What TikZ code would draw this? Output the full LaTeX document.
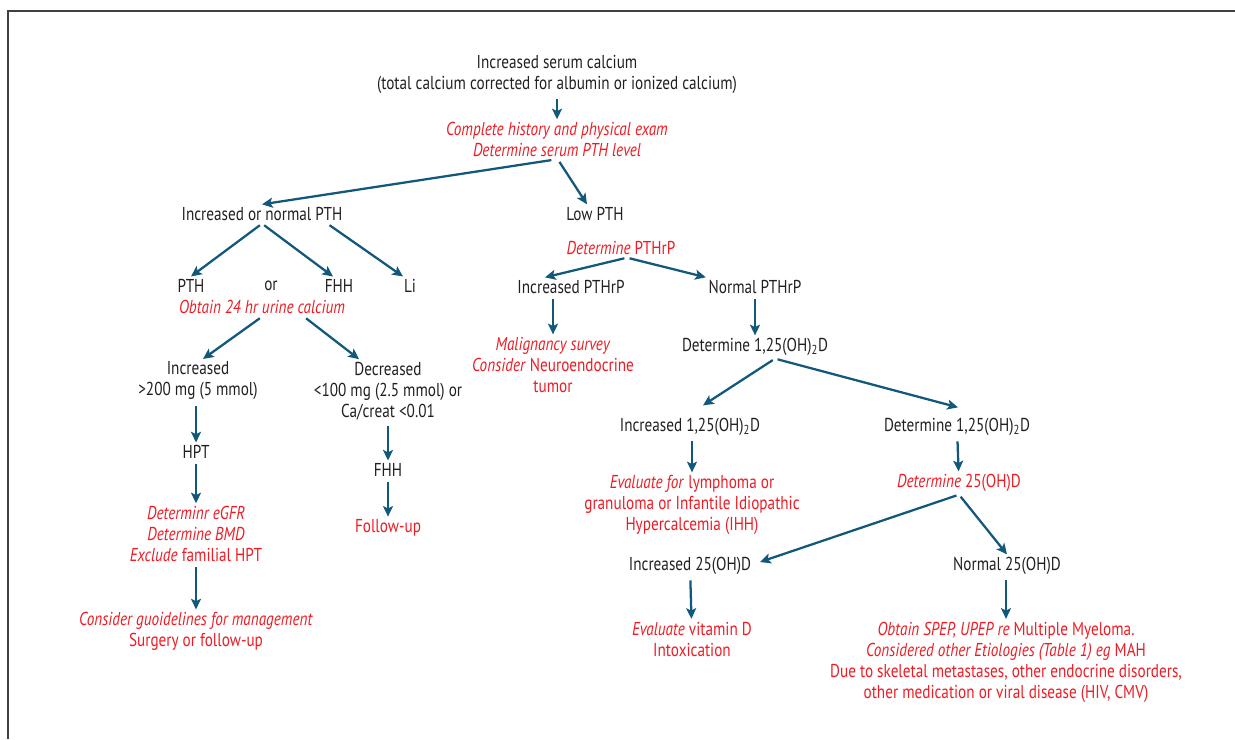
\documentclass[tikz,border=0pt]{standalone}
\usepackage{fontspec}
\setmainfont{PT Sans}[FakeStretch=0.815]
\usepackage{xcolor}
\usepackage{tikz}
\usetikzlibrary{calc}
\usetikzlibrary{arrows.meta}
\definecolor{flowblue}{RGB}{18,88,122}
\definecolor{flowred}{RGB}{237,28,36}
\definecolor{flowtext}{RGB}{35,31,32}
\newcommand\dihyd{1,25(OH)\textsubscript{2}D}

\begin{document}
\begin{tikzpicture}[x=0.75pt,y=-0.75pt,
    every node/.style={font=\fontsize{14}{15.75}\selectfont,text=flowtext,align=center,inner sep=2pt},
    act/.style={text=flowred},
    arr/.style={draw=flowblue,line width=1.7pt,shorten <=2pt,
      -{Stealth[length=8pt,width=7.5pt,inset=1.8pt]}}]

  \useasboundingbox (0,0) rectangle (1235,739);
  \draw[line width=0.8pt,black!75] (8,739) -- (8,11) -- (1235,11);

  \node (top) at (557,74.5) {Increased serum calcium\\(total calcium corrected for albumin or ionized calcium)};
  \node[act] (hist) at (557,139.5) {\textit{Complete history and physical exam}\\\textit{Determine serum PTH level}};

  % left branch
  \node (inpth) at (262,214) {Increased or normal PTH};
  \node (pth) at (191,286) {PTH};
  \node (or) at (271,286) {or};
  \node (fhh) at (339,286) {FHH};
  \node (li) at (410,286) {Li};
  \node[act] (urine) at (262,307) {\textit{Obtain 24 hr urine calcium}};
  \node (incr) at (198,381) {Increased\\>200 mg (5 mmol)};
  \node (decr) at (388,391) {Decreased\\<100 mg (2.5 mmol) or\\Ca/creat <0.01};
  \node (hpt) at (196,452) {HPT};
  \node[act] (excl) at (196,534) {\textit{Determinr eGFR}\\\textit{Determine BMD}\\\textit{Exclude} familial HPT};
  \node[act] (cons) at (196,631.5) {\textit{Consider guoidelines for management}\\Surgery or follow-up};
  \node (fhhb) at (388,470) {FHH};
  \node[act] (fu) at (388,528) {Follow-up};

  % right branch
  \node (lowpth) at (595,214) {Low PTH};
  \node[act] (pthrp) at (621,248) {\textit{Determine} PTHrP};
  \node (incpthrp) at (571,287) {Increased PTHrP};
  \node (normpthrp) at (755,287) {Normal PTHrP};
  \node[act] (malig) at (553,365) {\textit{Malignancy survey}\\\textit{Consider} Neuroendocrine\\tumor};
  \node (det125) at (755,347) {Determine \dihyd};
  \node (inc125) at (690,427) {Increased \dihyd};
  \node (det125b) at (957,427) {Determine \dihyd};
  \node[act] (evalf) at (692,505) {\textit{Evaluate for} lymphoma or\\granuloma or Infantile Idiopathic\\Hypercalcemia (IHH)};
  \node[act] (d25) at (959,483) {\textit{Determine} 25(OH)D};
  \node (inc25) at (690,566) {Increased 25(OH)D};
  \node (norm25) at (1007,566) {Normal 25(OH)D};
  \node[act] (evald) at (692,639) {\textit{Evaluate} vitamin D\\Intoxication};
  \node[act] (obtain) at (1006,662) {\textit{Obtain SPEP, UPEP re} Multiple Myeloma.\\\textit{Considered other Etiologies (Table 1) eg} MAH\\Due to skeletal metastases, other endocrine disorders,\\other medication or viral disease (HIV, CMV)};

  \draw[arr] (top) -- (hist);
  \draw[arr] ($(hist.south)+(-3,0)$) -- (inpth.north);
  \draw[arr] ($(hist.south)+(1,0)$) -- ($(lowpth.north)+(-8,0)$);
  \draw[arr] (inpth.south) -- (pth.north);
  \draw[arr] (inpth.south) -- ($(fhh.north)+(-6,0)$);
  \draw[arr] ($(inpth.south east)+(-18,0)$) -- ($(li.north)+(-7,0)$);
  \draw[arr] (urine.south) -- ($(incr.north)+(5,0)$);
  \draw[arr] ($(urine.south)+(42,0)$) -- ($(decr.north)+(-29,0)$);
  \draw[arr] (incr.south -| hpt) -- (hpt);
  \draw[arr] (hpt) -- (excl);
  \draw[arr] (excl) -- (cons);
  \draw[arr] (decr) -- (fhhb);
  \draw[arr] (fhhb) -- (fu);

  \draw[arr] ($(pthrp.south)+(6,0)$) -- ($(incpthrp.north)+(-26,0)$);
  \draw[arr] ($(pthrp.south)+(6,0)$) -- (normpthrp.north west);
  \draw[arr] (incpthrp.south -| malig) -- (malig);
  \draw[arr] (normpthrp) -- (det125);
  \draw[arr] ($(det125.south)+(20,0)$) -- ($(inc125.north)+(13,-10)$);
  \draw[arr] ($(det125.south)+(20,0)$) -- ($(det125b.north)+(1,-8)$);
  \draw[arr] (inc125.south -| evalf) -- (evalf);
  \draw[arr] (det125b) -- (d25);
  \draw[arr] (d25.south) -- ($(inc25.east)+(6,-4)$);
  \draw[arr] (d25.south) -- (norm25.north);
  \draw[arr] (inc25) -- (evald);
  \draw[arr] (norm25.south -| obtain) -- (obtain);

\end{tikzpicture}
\end{document}
